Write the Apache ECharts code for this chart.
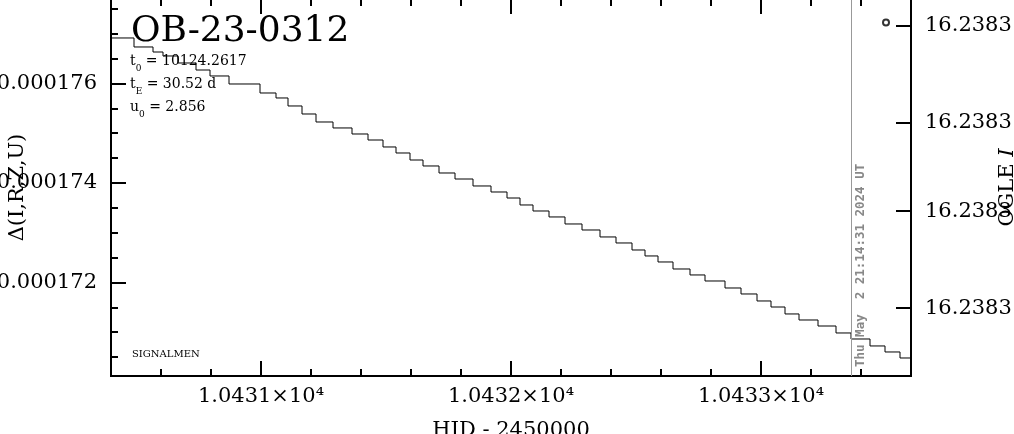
<!DOCTYPE html>
<html><head><meta charset="utf-8">
<script src="https://cdn.jsdelivr.net/npm/echarts@6/dist/echarts.min.js"></script>
<style>html,body{margin:0;padding:0;background:#fff}#c{width:1014px;height:434px}</style>
</head><body><div id="c"></div>
<script>
// ---- data ----
const HJD = [10430.400,10430.492,10430.568,10430.608,10430.668,10430.740,10430.796,10430.872,10430.996,10431.060,
  10431.108,10431.164,10431.220,10431.288,10431.364,10431.428,10431.488,10431.540,10431.596,10431.648,
  10431.712,10431.776,10431.848,10431.920,10431.984,10432.036,10432.088,10432.152,10432.216,10432.284,
  10432.356,10432.420,10432.484,10432.536,10432.588,10432.648,10432.716,10432.776,10432.856,10432.920,
  10432.984,10433.040,10433.096,10433.152,10433.228,10433.300,10433.360,10433.436,10433.496,10433.556,10433.600];
const DELTA = [0.000176915,0.000176734,0.000176633,0.000176553,0.000176412,0.000176271,0.000176151,0.000175990,0.000175809,0.000175709,
  0.000175548,0.000175387,0.000175226,0.000175106,0.000174985,0.000174864,0.000174724,0.000174603,0.000174462,0.000174342,
  0.000174201,0.000174080,0.000173940,0.000173819,0.000173698,0.000173558,0.000173437,0.000173317,0.000173176,0.000173055,
  0.000172915,0.000172794,0.000172653,0.000172533,0.000172412,0.000172271,0.000172151,0.000172030,0.000171889,0.000171769,
  0.000171628,0.000171507,0.000171367,0.000171246,0.000171125,0.000170985,0.000170864,0.000170724,0.000170603,0.000170482,0.000170482];
const X_MAJOR = [10431, 10432, 10433];
const Y_MAJOR = [0.000172, 0.000174, 0.000176];
const MAG_TICKS = [16.238271, 16.2382813, 16.2382907, 16.238301];
const OGLE_HJD = [10433.5];
const OGLE_MAG = [16.2382707];
const NOW_HJD = 10433.36;
const NOW_LABEL = 'Thu May  2 21:14:31 2024 UT';
const TITLE = 'OB-23-0312';
const T0 = '10124.2617', TE = '30.52 d', U0 = '2.856';

// ---- axis ranges ----
const X_MIN = 10430.4, X_MAX = 10433.6;
const Y_MIN = 0.00017012, Y_MAX = 0.0001776985;
const M_MIN = 16.2382682, M_MAX = 16.2383082;

const xMinor = []; for (let k = 52153; k < 52168; k++) xMinor.push(+(k * 0.2).toFixed(1));
const yMinor = []; for (let k = 341; k <= 355; k++) yMinor.push(k * 5e-7);

const FONT = 'DejaVu Serif';
const AX = { color: '#000', width: 2 };
const chart = echarts.init(document.getElementById('c'));

function xAx(pos, ticks, len, labels) {
  const a = {
    type: 'value', min: X_MIN, max: X_MAX, position: pos,
    axisLine: { show: true, onZero: false, lineStyle: AX },
    axisTick: { show: true, inside: true, length: len, customValues: ticks, lineStyle: AX },
    axisLabel: { show: false }, splitLine: { show: false }
  };
  if (labels) {
    a.axisLabel = { show: true, customValues: X_MAJOR, margin: 10, color: '#000', fontFamily: FONT, fontSize: 21,
      formatter: v => (v / 1e4).toFixed(4) + '×10⁴' };
    a.name = 'HJD - 2450000'; a.nameLocation = 'middle'; a.nameGap = 44; a.nameMoveOverlap = false;
    a.nameTextStyle = { color: '#000', fontFamily: FONT, fontSize: 21 };
  }
  return a;
}

const option = {
  animation: false,
  backgroundColor: '#fff',
  grid: { left: 111, right: 103, top: -1, bottom: 58, containLabel: false, outerBoundsMode: 'none' },
  title: [
    { text: TITLE, left: 131, top: 14, padding: 0,
      textStyle: { fontFamily: FONT, fontSize: 36, fontWeight: 'normal', color: '#000' } },
    { text: '{n|t}{s|0}{n| = ' + T0 + '}\n{n|t}{s|E}{n| = ' + TE + '}\n{n|u}{s|0}{n| = ' + U0 + '}',
      left: 130, top: 50, padding: 0,
      textStyle: { fontWeight: 'normal', rich: {
        n: { fontFamily: FONT, fontSize: 14, fontWeight: 'normal', lineHeight: 23, color: '#000' },
        s: { fontFamily: FONT, fontSize: 9, fontWeight: 'normal', lineHeight: 16, color: '#000', verticalAlign: 'bottom' } } } },
    { text: 'SIGNALMEN', left: 132, top: 349, padding: 0,
      textStyle: { fontFamily: FONT, fontSize: 10, fontWeight: 'normal', color: '#000' } }
  ],
  xAxis: [
    xAx('bottom', xMinor, 7, false),
    xAx('bottom', X_MAJOR, 15, true),
    xAx('top', xMinor, 7, false),
    xAx('top', X_MAJOR, 15, false)
  ],
  yAxis: [
    { type: 'value', min: Y_MIN, max: Y_MAX, position: 'left',
      axisLine: { show: true, onZero: false, lineStyle: AX },
      axisTick: { show: true, inside: true, length: 7, customValues: yMinor, lineStyle: AX },
      axisLabel: { show: false }, splitLine: { show: false } },
    { type: 'value', min: Y_MIN, max: Y_MAX, position: 'left',
      axisLine: { show: true, onZero: false, lineStyle: AX },
      axisTick: { show: true, inside: true, length: 15, customValues: Y_MAJOR, lineStyle: AX },
      axisLabel: { show: true, customValues: Y_MAJOR, margin: 14, color: '#000', fontFamily: FONT, fontSize: 21,
        formatter: v => v.toFixed(6) },
      splitLine: { show: false },
      name: 'Δ(I,R,Z,U)', nameLocation: 'middle', nameRotate: 90, nameGap: 83, nameMoveOverlap: false,
      nameTextStyle: { color: '#000', fontFamily: FONT, fontSize: 21 } },
    { type: 'value', min: M_MIN, max: M_MAX, inverse: true, position: 'right',
      axisLine: { show: true, onZero: false, lineStyle: AX },
      axisTick: { show: true, inside: true, length: 15, customValues: MAG_TICKS, lineStyle: AX },
      axisLabel: { show: true, customValues: MAG_TICKS, margin: 14, color: '#000', fontFamily: FONT, fontSize: 21,
        formatter: v => v.toFixed(4) },
      splitLine: { show: false },
      name: 'OGLE {i|I}', nameLocation: 'middle', nameRotate: 90, nameGap: 86, nameMoveOverlap: false,
      nameTextStyle: { color: '#000', fontFamily: FONT, fontSize: 21,
        rich: { i: { fontFamily: FONT, fontSize: 21, fontStyle: 'italic', color: '#000' } } } }
  ],
  series: [
    { type: 'line', xAxisIndex: 1, yAxisIndex: 1, step: 'end', symbol: 'none',
      data: HJD.map((x, i) => [x, DELTA[i]]),
      lineStyle: { color: '#000', width: 1 },
      markLine: { symbol: ['none', 'none'], silent: true,
        lineStyle: { color: '#999', width: 1, type: 'solid' },
        label: { show: true, formatter: NOW_LABEL, position: 'insideStartBottom', distance: [9, 3],
          color: '#888', fontFamily: 'DejaVu Sans Mono', fontWeight: 'bold', fontSize: 12.5 },
        data: [{ xAxis: NOW_HJD }] } },
    { type: 'scatter', xAxisIndex: 1, yAxisIndex: 2, symbol: 'circle', symbolSize: 6,
      data: OGLE_HJD.map((x, i) => [x, OGLE_MAG[i]]),
      itemStyle: { color: '#fff', borderColor: '#000', borderWidth: 2 } }
  ]
};
chart.setOption(option);
</script></body></html>
